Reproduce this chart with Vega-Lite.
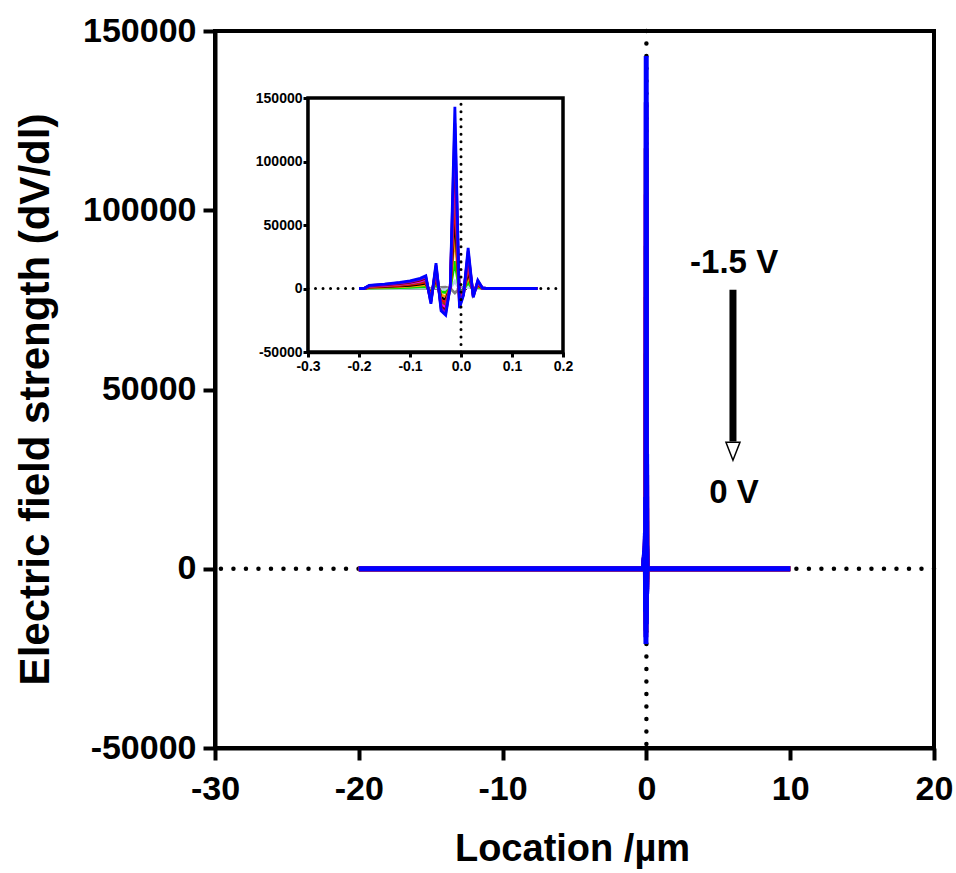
{
 "$schema": "https://vega.github.io/schema/vega-lite/v6.json",
 "width": 719,
 "height": 717,
 "autosize": "none",
 "padding": {"left": 215, "top": 31, "right": 22, "bottom": 125},
 "background": "white",
 "config": {
  "font": "Liberation Sans",
  "locale": {"number": {"decimal": ".", "thousands": ",", "grouping": [3], "currency": ["$", ""], "minus": "-"}},
  "view": {"stroke": "black", "strokeWidth": 4},
  "axis": {"grid": false, "labelFlush": false, "domainColor": "black", "domainWidth": 4, "tickColor": "black", "tickWidth": 4, "labelColor": "black", "titleColor": "black", "labelFontWeight": "bold", "titleFontWeight": "bold", "labelFont": "Liberation Sans", "titleFont": "Liberation Sans"}
 },
 "datasets": {
  "one": [{"k": 1}],
  "d": [
   {"s":"0 V","x":-20,"y":0},{"s":"0 V","x":-0.2,"y":0},{"s":"0 V","x":-0.19,"y":0},{"s":"0 V","x":-0.18,"y":0},{"s":"0 V","x":-0.15,"y":0},{"s":"0 V","x":-0.12,"y":0},{"s":"0 V","x":-0.1,"y":0},{"s":"0 V","x":-0.08,"y":0},{"s":"0 V","x":-0.069,"y":0},{"s":"0 V","x":-0.059,"y":0},{"s":"0 V","x":-0.049,"y":0},{"s":"0 V","x":-0.039,"y":800},{"s":"0 V","x":-0.03,"y":1000},{"s":"0 V","x":-0.021,"y":0},{"s":"0 V","x":-0.012,"y":-3500},{"s":"0 V","x":-0.003,"y":0},{"s":"0 V","x":0.005,"y":1000},{"s":"0 V","x":0.014,"y":1500},{"s":"0 V","x":0.024,"y":0},{"s":"0 V","x":0.033,"y":0},{"s":"0 V","x":0.042,"y":0},{"s":"0 V","x":0.05,"y":0},{"s":"0 V","x":0.1,"y":0},{"s":"0 V","x":0.15,"y":0},{"s":"0 V","x":10,"y":0},

   {"s":"-0.15 V","x":-20,"y":0},{"s":"-0.15 V","x":-0.2,"y":0},{"s":"-0.15 V","x":-0.19,"y":0},{"s":"-0.15 V","x":-0.18,"y":100},{"s":"-0.15 V","x":-0.15,"y":140},{"s":"-0.15 V","x":-0.12,"y":192},{"s":"-0.15 V","x":-0.1,"y":240},{"s":"-0.15 V","x":-0.08,"y":320},{"s":"-0.15 V","x":-0.069,"y":400},{"s":"-0.15 V","x":-0.059,"y":-480},{"s":"-0.15 V","x":-0.049,"y":800},{"s":"-0.15 V","x":-0.039,"y":-700},{"s":"-0.15 V","x":-0.03,"y":-840},{"s":"-0.15 V","x":-0.021,"y":80},{"s":"-0.15 V","x":-0.012,"y":5720},{"s":"-0.15 V","x":-0.003,"y":-620},{"s":"-0.15 V","x":0.005,"y":-200},{"s":"-0.15 V","x":0.014,"y":1280},{"s":"-0.15 V","x":0.024,"y":-280},{"s":"-0.15 V","x":0.033,"y":260},{"s":"-0.15 V","x":0.042,"y":20},{"s":"-0.15 V","x":0.05,"y":0},{"s":"-0.15 V","x":0.1,"y":0},{"s":"-0.15 V","x":0.15,"y":0},{"s":"-0.15 V","x":10,"y":0},

   {"s":"-0.3 V","x":-20,"y":0},{"s":"-0.3 V","x":-0.2,"y":0},{"s":"-0.3 V","x":-0.19,"y":0},{"s":"-0.3 V","x":-0.18,"y":375},{"s":"-0.3 V","x":-0.15,"y":525},{"s":"-0.3 V","x":-0.12,"y":720},{"s":"-0.3 V","x":-0.1,"y":900},{"s":"-0.3 V","x":-0.08,"y":1200},{"s":"-0.3 V","x":-0.069,"y":1500},{"s":"-0.3 V","x":-0.059,"y":-1800},{"s":"-0.3 V","x":-0.049,"y":3000},{"s":"-0.3 V","x":-0.039,"y":-2625},{"s":"-0.3 V","x":-0.03,"y":-3150},{"s":"-0.3 V","x":-0.021,"y":300},{"s":"-0.3 V","x":-0.012,"y":21450},{"s":"-0.3 V","x":-0.003,"y":-2325},{"s":"-0.3 V","x":0.005,"y":-750},{"s":"-0.3 V","x":0.014,"y":4800},{"s":"-0.3 V","x":0.024,"y":-1050},{"s":"-0.3 V","x":0.033,"y":975},{"s":"-0.3 V","x":0.042,"y":75},{"s":"-0.3 V","x":0.05,"y":0},{"s":"-0.3 V","x":0.1,"y":0},{"s":"-0.3 V","x":0.15,"y":0},{"s":"-0.3 V","x":10,"y":0},

   {"s":"-0.45 V","x":-20,"y":0},{"s":"-0.45 V","x":-0.2,"y":0},{"s":"-0.45 V","x":-0.19,"y":0},{"s":"-0.45 V","x":-0.18,"y":750},{"s":"-0.45 V","x":-0.15,"y":1050},{"s":"-0.45 V","x":-0.12,"y":1440},{"s":"-0.45 V","x":-0.1,"y":1800},{"s":"-0.45 V","x":-0.08,"y":2400},{"s":"-0.45 V","x":-0.069,"y":3000},{"s":"-0.45 V","x":-0.059,"y":-3600},{"s":"-0.45 V","x":-0.049,"y":6000},{"s":"-0.45 V","x":-0.039,"y":-5250},{"s":"-0.45 V","x":-0.03,"y":-6300},{"s":"-0.45 V","x":-0.021,"y":600},{"s":"-0.45 V","x":-0.012,"y":42900},{"s":"-0.45 V","x":-0.003,"y":-4650},{"s":"-0.45 V","x":0.005,"y":-1500},{"s":"-0.45 V","x":0.014,"y":9600},{"s":"-0.45 V","x":0.024,"y":-2100},{"s":"-0.45 V","x":0.033,"y":1950},{"s":"-0.45 V","x":0.042,"y":150},{"s":"-0.45 V","x":0.05,"y":0},{"s":"-0.45 V","x":0.1,"y":0},{"s":"-0.45 V","x":0.15,"y":0},{"s":"-0.45 V","x":10,"y":0},

   {"s":"-0.6 V","x":-20,"y":0},{"s":"-0.6 V","x":-0.2,"y":0},{"s":"-0.6 V","x":-0.19,"y":0},{"s":"-0.6 V","x":-0.18,"y":1050},{"s":"-0.6 V","x":-0.15,"y":1470},{"s":"-0.6 V","x":-0.12,"y":2016},{"s":"-0.6 V","x":-0.1,"y":2520},{"s":"-0.6 V","x":-0.08,"y":3360},{"s":"-0.6 V","x":-0.069,"y":4200},{"s":"-0.6 V","x":-0.059,"y":-5040},{"s":"-0.6 V","x":-0.049,"y":8400},{"s":"-0.6 V","x":-0.039,"y":-7350},{"s":"-0.6 V","x":-0.03,"y":-8820},{"s":"-0.6 V","x":-0.021,"y":840},{"s":"-0.6 V","x":-0.012,"y":60060},{"s":"-0.6 V","x":-0.003,"y":-6510},{"s":"-0.6 V","x":0.005,"y":-2100},{"s":"-0.6 V","x":0.014,"y":13440},{"s":"-0.6 V","x":0.024,"y":-2940},{"s":"-0.6 V","x":0.033,"y":2730},{"s":"-0.6 V","x":0.042,"y":210},{"s":"-0.6 V","x":0.05,"y":0},{"s":"-0.6 V","x":0.1,"y":0},{"s":"-0.6 V","x":0.15,"y":0},{"s":"-0.6 V","x":10,"y":0},

   {"s":"-0.75 V","x":-20,"y":0},{"s":"-0.75 V","x":-0.2,"y":0},{"s":"-0.75 V","x":-0.19,"y":0},{"s":"-0.75 V","x":-0.18,"y":1325},{"s":"-0.75 V","x":-0.15,"y":1855},{"s":"-0.75 V","x":-0.12,"y":2544},{"s":"-0.75 V","x":-0.1,"y":3180},{"s":"-0.75 V","x":-0.08,"y":4240},{"s":"-0.75 V","x":-0.069,"y":5300},{"s":"-0.75 V","x":-0.059,"y":-6360},{"s":"-0.75 V","x":-0.049,"y":10600},{"s":"-0.75 V","x":-0.039,"y":-9275},{"s":"-0.75 V","x":-0.03,"y":-11130},{"s":"-0.75 V","x":-0.021,"y":1060},{"s":"-0.75 V","x":-0.012,"y":75790},{"s":"-0.75 V","x":-0.003,"y":-8215},{"s":"-0.75 V","x":0.005,"y":-2650},{"s":"-0.75 V","x":0.014,"y":16960},{"s":"-0.75 V","x":0.024,"y":-3710},{"s":"-0.75 V","x":0.033,"y":3445},{"s":"-0.75 V","x":0.042,"y":265},{"s":"-0.75 V","x":0.05,"y":0},{"s":"-0.75 V","x":0.1,"y":0},{"s":"-0.75 V","x":0.15,"y":0},{"s":"-0.75 V","x":10,"y":0},

   {"s":"-0.9 V","x":-20,"y":0},{"s":"-0.9 V","x":-0.2,"y":0},{"s":"-0.9 V","x":-0.19,"y":0},{"s":"-0.9 V","x":-0.18,"y":1575},{"s":"-0.9 V","x":-0.15,"y":2205},{"s":"-0.9 V","x":-0.12,"y":3024},{"s":"-0.9 V","x":-0.1,"y":3780},{"s":"-0.9 V","x":-0.08,"y":5040},{"s":"-0.9 V","x":-0.069,"y":6300},{"s":"-0.9 V","x":-0.059,"y":-7560},{"s":"-0.9 V","x":-0.049,"y":12600},{"s":"-0.9 V","x":-0.039,"y":-11025},{"s":"-0.9 V","x":-0.03,"y":-13230},{"s":"-0.9 V","x":-0.021,"y":1260},{"s":"-0.9 V","x":-0.012,"y":90090},{"s":"-0.9 V","x":-0.003,"y":-9765},{"s":"-0.9 V","x":0.005,"y":-3150},{"s":"-0.9 V","x":0.014,"y":20160},{"s":"-0.9 V","x":0.024,"y":-4410},{"s":"-0.9 V","x":0.033,"y":4095},{"s":"-0.9 V","x":0.042,"y":315},{"s":"-0.9 V","x":0.05,"y":0},{"s":"-0.9 V","x":0.1,"y":0},{"s":"-0.9 V","x":0.15,"y":0},{"s":"-0.9 V","x":10,"y":0},

   {"s":"-1.05 V","x":-20,"y":0},{"s":"-1.05 V","x":-0.2,"y":0},{"s":"-1.05 V","x":-0.19,"y":0},{"s":"-1.05 V","x":-0.18,"y":1825},{"s":"-1.05 V","x":-0.15,"y":2555},{"s":"-1.05 V","x":-0.12,"y":3504},{"s":"-1.05 V","x":-0.1,"y":4380},{"s":"-1.05 V","x":-0.08,"y":5840},{"s":"-1.05 V","x":-0.069,"y":7300},{"s":"-1.05 V","x":-0.059,"y":-8760},{"s":"-1.05 V","x":-0.049,"y":14600},{"s":"-1.05 V","x":-0.039,"y":-12775},{"s":"-1.05 V","x":-0.03,"y":-15330},{"s":"-1.05 V","x":-0.021,"y":1460},{"s":"-1.05 V","x":-0.012,"y":104390},{"s":"-1.05 V","x":-0.003,"y":-11315},{"s":"-1.05 V","x":0.005,"y":-3650},{"s":"-1.05 V","x":0.014,"y":23360},{"s":"-1.05 V","x":0.024,"y":-5110},{"s":"-1.05 V","x":0.033,"y":4745},{"s":"-1.05 V","x":0.042,"y":365},{"s":"-1.05 V","x":0.05,"y":0},{"s":"-1.05 V","x":0.1,"y":0},{"s":"-1.05 V","x":0.15,"y":0},{"s":"-1.05 V","x":10,"y":0},

   {"s":"-1.2 V","x":-20,"y":0},{"s":"-1.2 V","x":-0.2,"y":0},{"s":"-1.2 V","x":-0.19,"y":0},{"s":"-1.2 V","x":-0.18,"y":2050},{"s":"-1.2 V","x":-0.15,"y":2870},{"s":"-1.2 V","x":-0.12,"y":3936},{"s":"-1.2 V","x":-0.1,"y":4920},{"s":"-1.2 V","x":-0.08,"y":6560},{"s":"-1.2 V","x":-0.069,"y":8200},{"s":"-1.2 V","x":-0.059,"y":-9840},{"s":"-1.2 V","x":-0.049,"y":16400},{"s":"-1.2 V","x":-0.039,"y":-14350},{"s":"-1.2 V","x":-0.03,"y":-17220},{"s":"-1.2 V","x":-0.021,"y":1640},{"s":"-1.2 V","x":-0.012,"y":117260},{"s":"-1.2 V","x":-0.003,"y":-12710},{"s":"-1.2 V","x":0.005,"y":-4100},{"s":"-1.2 V","x":0.014,"y":26240},{"s":"-1.2 V","x":0.024,"y":-5740},{"s":"-1.2 V","x":0.033,"y":5330},{"s":"-1.2 V","x":0.042,"y":410},{"s":"-1.2 V","x":0.05,"y":0},{"s":"-1.2 V","x":0.1,"y":0},{"s":"-1.2 V","x":0.15,"y":0},{"s":"-1.2 V","x":10,"y":0},

   {"s":"-1.35 V","x":-20,"y":0},{"s":"-1.35 V","x":-0.2,"y":0},{"s":"-1.35 V","x":-0.19,"y":0},{"s":"-1.35 V","x":-0.18,"y":2275},{"s":"-1.35 V","x":-0.15,"y":3185},{"s":"-1.35 V","x":-0.12,"y":4368},{"s":"-1.35 V","x":-0.1,"y":5460},{"s":"-1.35 V","x":-0.08,"y":7280},{"s":"-1.35 V","x":-0.069,"y":9100},{"s":"-1.35 V","x":-0.059,"y":-10920},{"s":"-1.35 V","x":-0.049,"y":18200},{"s":"-1.35 V","x":-0.039,"y":-15925},{"s":"-1.35 V","x":-0.03,"y":-19110},{"s":"-1.35 V","x":-0.021,"y":1820},{"s":"-1.35 V","x":-0.012,"y":130130},{"s":"-1.35 V","x":-0.003,"y":-14105},{"s":"-1.35 V","x":0.005,"y":-4550},{"s":"-1.35 V","x":0.014,"y":29120},{"s":"-1.35 V","x":0.024,"y":-6370},{"s":"-1.35 V","x":0.033,"y":5915},{"s":"-1.35 V","x":0.042,"y":455},{"s":"-1.35 V","x":0.05,"y":0},{"s":"-1.35 V","x":0.1,"y":0},{"s":"-1.35 V","x":0.15,"y":0},{"s":"-1.35 V","x":10,"y":0},

   {"s":"-1.5 V","x":-20,"y":0},{"s":"-1.5 V","x":-0.2,"y":0},{"s":"-1.5 V","x":-0.19,"y":0},{"s":"-1.5 V","x":-0.18,"y":2500},{"s":"-1.5 V","x":-0.15,"y":3500},{"s":"-1.5 V","x":-0.12,"y":4800},{"s":"-1.5 V","x":-0.1,"y":6000},{"s":"-1.5 V","x":-0.08,"y":8000},{"s":"-1.5 V","x":-0.069,"y":10000},{"s":"-1.5 V","x":-0.059,"y":-12000},{"s":"-1.5 V","x":-0.049,"y":20000},{"s":"-1.5 V","x":-0.039,"y":-17500},{"s":"-1.5 V","x":-0.03,"y":-21000},{"s":"-1.5 V","x":-0.021,"y":2000},{"s":"-1.5 V","x":-0.012,"y":143000},{"s":"-1.5 V","x":-0.003,"y":-15500},{"s":"-1.5 V","x":0.005,"y":-5000},{"s":"-1.5 V","x":0.014,"y":32000},{"s":"-1.5 V","x":0.024,"y":-7000},{"s":"-1.5 V","x":0.033,"y":6500},{"s":"-1.5 V","x":0.042,"y":500},{"s":"-1.5 V","x":0.05,"y":0},{"s":"-1.5 V","x":0.1,"y":0},{"s":"-1.5 V","x":0.15,"y":0},{"s":"-1.5 V","x":10,"y":0}
  ]
 },
 "layer": [
  {
   "layer": [
    {
     "data": {"name": "one"},
     "mark": {"type": "rule", "strokeDash": [0.01, 12.5], "strokeCap": "round", "strokeWidth": 4.5, "color": "black"},
     "encoding": {"y": {"datum": 0}}
    },
    {
     "data": {"name": "one"},
     "mark": {"type": "rule", "strokeDash": [0.01, 12.5], "strokeCap": "round", "strokeWidth": 4.5, "color": "black"},
     "encoding": {"x": {"datum": 0}}
    },
    {
     "data": {"name": "d"},
     "mark": {"type": "line", "strokeWidth": 5, "strokeJoin": "miter"},
     "encoding": {
      "x": {"field": "x", "type": "quantitative", "scale": {"domain": [-30, 20], "nice": false, "zero": false},
            "axis": {"values": [-30, -20, -10, 0, 10, 20], "format": "d", "title": "Location /µm", "labelFontSize": 34, "titleFontSize": 38, "tickSize": 12, "labelPadding": 12, "titleX": 357, "titleY": 101, "titleBaseline": "middle", "titleAlign": "center"}},
      "y": {"field": "y", "type": "quantitative", "scale": {"domain": [-50000, 150000], "nice": false, "zero": false},
            "axis": {"values": [-50000, 0, 50000, 100000, 150000], "format": "d", "title": "Electric field strength (dV/dl)", "labelFontSize": 34, "titleFontSize": 42, "tickSize": 12, "labelPadding": 7, "titleX": -180, "titleY": 368, "titleAngle": -90, "titleAlign": "center", "titleBaseline": "middle"}},
      "color": {"field": "s", "type": "nominal", "legend": null,
                "scale": {"domain": ["0 V", "-0.15 V", "-0.3 V", "-0.45 V", "-0.6 V", "-0.75 V", "-0.9 V", "-1.05 V", "-1.2 V", "-1.35 V", "-1.5 V"],
                          "range": ["#808080", "#bcd2ee", "#00dd00", "#ff9900", "#000000", "#ff0000", "#8b4513", "#ff00ff", "#800000", "#7b00d4", "#0000ff"]}}
     }
    },
    {
     "data": {"name": "one"},
     "mark": {"type": "text", "text": "-1.5 V", "fontSize": 33, "fontWeight": "bold", "font": "Liberation Sans", "align": "center", "baseline": "middle", "color": "black"},
     "encoding": {"x": {"datum": 6.1}, "y": {"datum": 85300}}
    },
    {
     "data": {"name": "one"},
     "mark": {"type": "text", "text": "0 V", "fontSize": 33, "fontWeight": "bold", "font": "Liberation Sans", "align": "center", "baseline": "middle", "color": "black"},
     "encoding": {"x": {"datum": 6.1}, "y": {"datum": 21100}}
    },
    {
     "data": {"name": "one"},
     "mark": {"type": "rule", "strokeWidth": 7, "color": "black"},
     "encoding": {"x": {"datum": 6.02}, "y": {"datum": 77800}, "y2": {"datum": 35500}}
    },
    {
     "data": {"name": "one"},
     "mark": {"type": "point", "shape": "M-0.78,-1L0.78,-1L0,1Z", "filled": true, "fill": "white", "stroke": "black", "strokeWidth": 1.5, "size": 324, "opacity": 1},
     "encoding": {"x": {"datum": 6.02}, "y": {"datum": 32800}}
    }
   ]
  },
  {
   "layer": [
    {
     "data": {"name": "one"},
     "mark": {"type": "rect", "fill": "white", "stroke": "black", "strokeWidth": 3.5},
     "encoding": {
      "x": {"datum": -0.3, "type": "quantitative", "scale": {"domain": [-0.3, 0.2], "range": [93, 348], "nice": false, "zero": false},
            "axis": {"orient": "bottom", "offset": -396, "values": [-0.3, -0.2, -0.1, 0, 0.1, 0.2], "format": ".1f", "title": null, "labelFontSize": 14, "tickSize": 5, "tickWidth": 3, "domainWidth": 3.5, "labelPadding": 2}},
      "x2": {"datum": 0.2},
      "y": {"datum": -50000, "type": "quantitative", "scale": {"domain": [-50000, 150000], "range": [321, 67], "nice": false, "zero": false},
            "axis": {"orient": "left", "offset": -93, "values": [-50000, 0, 50000, 100000, 150000], "format": "d", "title": null, "labelFontSize": 14, "tickSize": 5, "tickWidth": 3, "domainWidth": 3.5, "labelPadding": 1}},
      "y2": {"datum": 150000}
     }
    },
    {
     "data": {"name": "one"},
     "mark": {"type": "rule", "strokeDash": [0.01, 7.5], "strokeCap": "round", "strokeWidth": 3, "color": "black"},
     "encoding": {"x": {"datum": -0.3}, "x2": {"datum": 0.2}, "y": {"datum": 0}}
    },
    {
     "data": {"name": "d"},
     "transform": [{"filter": "datum.x >= -0.2 && datum.x <= 0.15"}],
     "mark": {"type": "line", "strokeWidth": 2.8},
     "encoding": {
      "x": {"field": "x", "type": "quantitative"},
      "y": {"field": "y", "type": "quantitative"},
      "color": {"field": "s", "type": "nominal", "legend": null}
     }
    },
    {
     "data": {"name": "one"},
     "mark": {"type": "rule", "strokeDash": [0.01, 7.5], "strokeCap": "round", "strokeWidth": 3, "color": "black"},
     "encoding": {"x": {"datum": 0}, "y": {"datum": -50000}, "y2": {"datum": 150000}}
    }
   ]
  }
 ],
 "resolve": {"scale": {"x": "independent", "y": "independent"}, "axis": {"x": "independent", "y": "independent"}}
}
